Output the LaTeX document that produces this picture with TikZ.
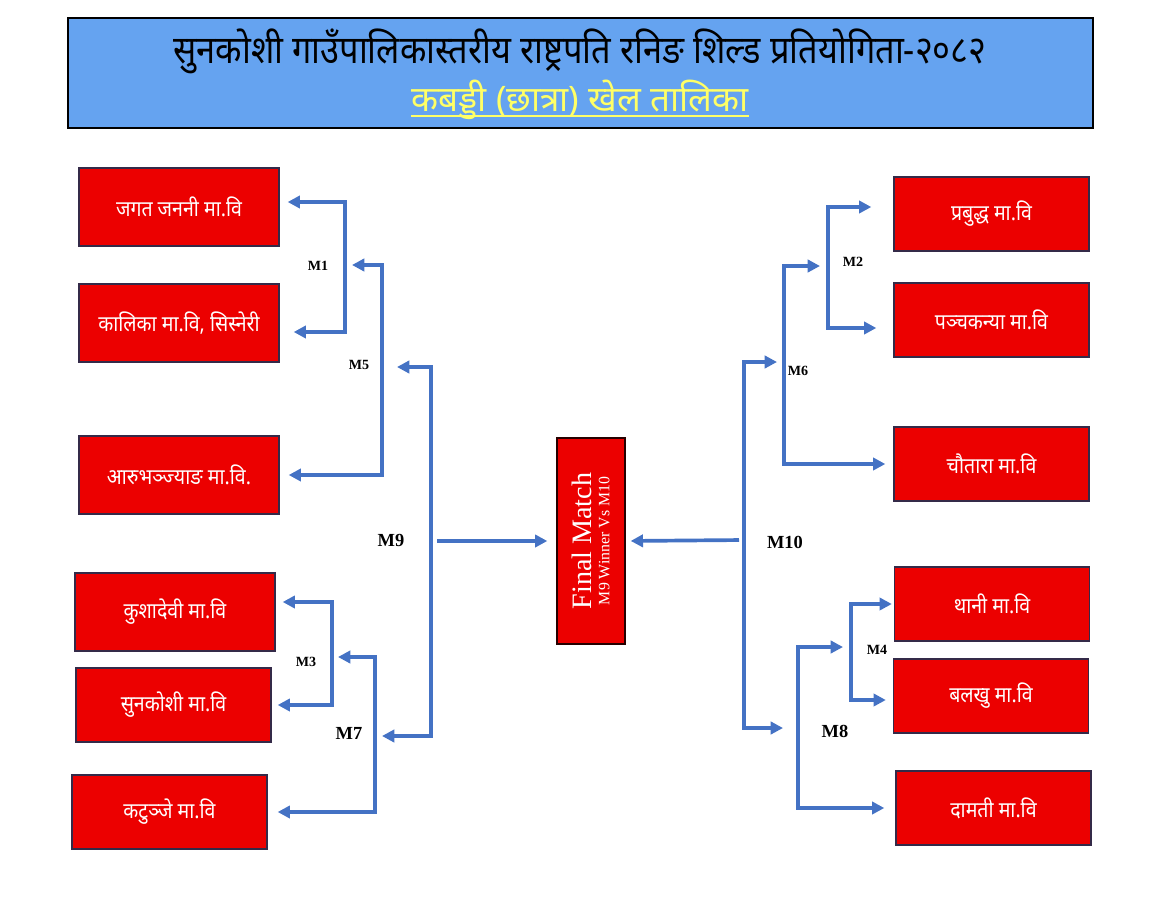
\documentclass[tikz,border=0pt]{standalone}
\usepackage{fontspec}
\setmainfont{Liberation Serif}
\newfontfamily\deva[Script=Devanagari]{Noto Sans}
\newfontfamily\devanarrow[Script=Devanagari,FakeStretch=0.89]{Noto Sans}
\usetikzlibrary{arrows.meta}
\definecolor{hdrblue}{RGB}{101,163,240}
\definecolor{boxred}{RGB}{236,0,0}
\definecolor{boxedge}{RGB}{52,42,72}
\definecolor{linkblue}{RGB}{68,114,196}
\definecolor{titleyellow}{RGB}{255,255,102}
\begin{document}
\begin{tikzpicture}[x=0.02cm,y=-0.02cm,
    team/.style={draw=boxedge,line width=0.8pt,fill=boxred,text=white,minimum width=4cm,minimum height=1.56cm,font=\devanarrow\fontsize{12.5}{14}\selectfont},
    teamb/.style={team,minimum width=3.9cm,minimum height=1.48cm},
    link/.style={draw=linkblue,line width=2.1pt,-{Triangle[length=7pt,width=7pt]}},
    both/.style={link,{Triangle[length=7pt,width=7pt]}-{Triangle[length=7pt,width=7pt]}},
    mlabel/.style={font=\bfseries\fontsize{8}{9}\selectfont},
    bigmlabel/.style={font=\bfseries\fontsize{10.5}{12}\selectfont}]
    \useasboundingbox (0,0) rectangle (1154,910);

    \node[draw=black,line width=1pt,fill=hdrblue,minimum width=20.5cm,minimum height=2.2cm] (head) at (580.5,73) {};
    \node[font=\devanarrow\fontsize{22}{24}\selectfont] (title) at (580,51) {सुनकोशी गाउँपालिकास्तरीय राष्ट्रपति रनिङ शिल्ड प्रतियोगिता-२०८२};
    \node[font=\deva\fontsize{20}{22}\selectfont,text=titleyellow,inner sep=0pt] (subtitle) at (580,100) {कबड्डी (छात्रा) खेल तालिका};
    \draw[titleyellow,line width=1pt] ([yshift=2.5pt]subtitle.south west) -- ([yshift=2.5pt]subtitle.south east);

    \node[team] (b1) at (179,207) {जगत जननी मा.वि};
    \node[team] (b2) at (179,323) {कालिका मा.वि, सिस्नेरी};
    \node[team] (b3) at (179,475) {आरुभञ्ज्याङ मा.वि.};
    \node[team] (b4) at (175,612) {कुशादेवी मा.वि};
    \node[teamb] (b5) at (173.5,705) {सुनकोशी मा.वि};
    \node[teamb] (b6) at (169.5,812) {कटुञ्जे मा.वि};

    \node[teamb] (r1) at (991.5,214) {प्रबुद्ध मा.वि};
    \node[teamb] (r2) at (991.5,320) {पञ्चकन्या मा.वि};
    \node[teamb] (r3) at (991.5,464) {चौतारा मा.वि};
    \node[teamb] (r4) at (992,604) {थानी मा.वि};
    \node[teamb] (r5) at (991,696) {बलखु मा.वि};
    \node[teamb] (r6) at (993.5,808) {दामती मा.वि};

    \node[draw=black!85!red,line width=0.8pt,fill=boxred,text=white,rotate=90,minimum width=4.12cm,minimum height=1.36cm,inner sep=1pt,align=center] (fin) at (591,541) {{\fontsize{16}{17}\selectfont Final Match}\\[-2pt]{\fontsize{9}{10}\selectfont M9 Winner Vs M10}};

    \coordinate (m1) at (345,265);
    \coordinate (m5) at (382,367);
    \coordinate (m9) at (431,541);
    \coordinate (m3) at (332,657);
    \coordinate (m7) at (375,736);
    \coordinate (m2) at (828,266);
    \coordinate (m6) at (784,362);
    \coordinate (m10) at (744,540);
    \coordinate (m4) at (851,647);
    \coordinate (m8) at (798,728);

    \draw[both,shorten <=0.16cm,shorten >=0.28cm] ([yshift=0.1cm]b1.east) -| (m1) |- ([yshift=-0.18cm]b2.east);
    \draw[both,shorten <=0.14cm,shorten >=0.18cm] (m1) -| (m5) |- (b3.east);
    \draw[both,shorten <=0.3cm,shorten >=0.14cm] (m5) -| (m9) |- (m7);
    \draw[link,shorten <=0.12cm,shorten >=0.18cm] (m9) -- (fin.north);
    \draw[both,shorten <=0.14cm,shorten >=0.12cm] ([yshift=0.2cm]b4.east) -| (m3) |- (b5.east);
    \draw[both,shorten <=0.12cm,shorten >=0.2cm] (m3) -| (m7) |- (b6.east);

    \draw[both,shorten <=0.44cm,shorten >=0.34cm] ([yshift=0.14cm]r1.west) -| (m2) |- ([yshift=-0.16cm]r2.west);
    \draw[both,shorten <=0.16cm,shorten >=0.16cm] (m2) -| (m6) |- (r3.west);
    \draw[both,shorten <=0.14cm,shorten >=0.3cm] (m6) -| (m10) |- (m8);
    \draw[link,shorten <=0.1cm,shorten >=0.1cm] (m10) -- (fin.south);
    \draw[both,shorten <=0.04cm,shorten >=0.14cm] (r4.west) -| (m4) |- ([yshift=-0.08cm]r5.west);
    \draw[both,shorten <=0.16cm,shorten >=0.22cm] (m4) -| (m8) |- (r6.west);

    \node[mlabel] (l1) at (318,266) {M1};
    \node[mlabel] (l5) at (359,365) {M5};
    \node[bigmlabel] (l9) at (391,540) {M9};
    \node[mlabel] (l3) at (306,662) {M3};
    \node[bigmlabel] (l7) at (349,733) {M7};
    \node[mlabel] (l2) at (853,262) {M2};
    \node[mlabel] (l6) at (798,371) {M6};
    \node[bigmlabel] (l10) at (785,542) {M10};
    \node[mlabel] (l4) at (877,650) {M4};
    \node[bigmlabel] (l8) at (835,731) {M8};
\end{tikzpicture}
\end{document}
